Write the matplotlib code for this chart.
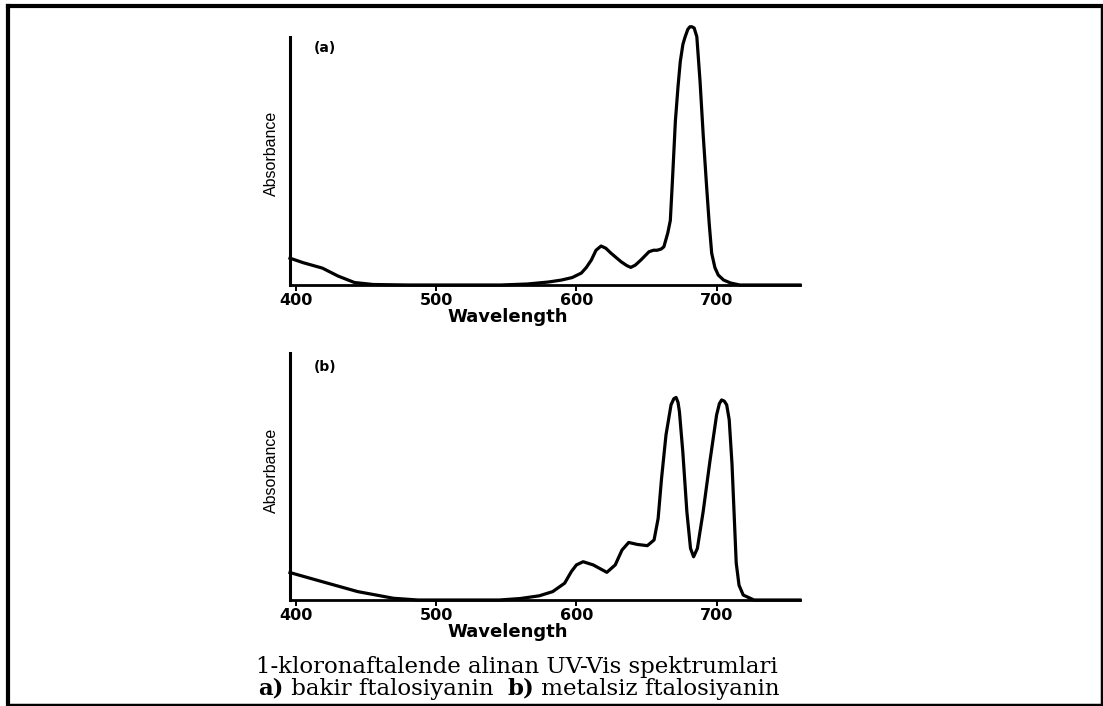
import matplotlib
matplotlib.use('Agg')
import matplotlib.pyplot as plt
from matplotlib.lines import Line2D
from matplotlib.transforms import blended_transform_factory

# spectrum (a) copper phthalocyanine
wl_a = [395.7, 405, 418.8, 430, 441.7, 455, 480, 520, 546, 565, 580, 589.4, 597,
        603.5, 607, 610.6, 614, 617.6, 621, 624.7, 631.8, 636, 638.8, 642, 645.9,
        651.8, 655, 657.6, 660.5, 662.4, 665.2, 667, 668.5, 670.6, 672.5, 674.1,
        676, 677.6, 679.5, 681, 682.4, 684, 685.9, 688.2, 690.5, 692.9, 694.7,
        696.5, 698.8, 701.2, 705, 710, 716.6, 730, 759.5]
abs_a = [0.108, 0.09, 0.068, 0.036, 0.01, 0.002, 0.0, 0.0, 0.0, 0.004, 0.012, 0.02,
         0.03, 0.048, 0.07, 0.10, 0.14, 0.157, 0.148, 0.128, 0.094, 0.078, 0.071,
         0.08, 0.10, 0.134, 0.14, 0.14, 0.145, 0.154, 0.21, 0.26, 0.42, 0.66, 0.80,
         0.90, 0.97, 1.0, 1.03, 1.04, 1.04, 1.035, 1.0, 0.82, 0.6, 0.395, 0.25,
         0.128, 0.07, 0.04, 0.02, 0.008, 0.0, 0.0, 0.0]

# spectrum (b) metal-free phthalocyanine
wl_b = [395.7, 418.8, 444, 469.5, 487, 520, 545, 560, 573.5, 583.1, 591.6, 596.4,
        600, 604.8, 612, 621.7, 627.7, 632.5, 637.3, 643.4, 650.6, 655.4, 658.3,
        660.7, 663.9, 667.5, 669.5, 671.1, 672.5, 673.5, 675.9, 678.8, 681.4,
        683.6, 686.3, 690.4, 695.2, 700, 702, 703.6, 705.5, 707.2, 709, 711, 712.5,
        714, 716, 719, 726.7, 759.5]
abs_b = [0.111, 0.074, 0.034, 0.007, 0.0, 0.0, 0.0, 0.006, 0.017, 0.034, 0.068,
         0.115, 0.142, 0.155, 0.142, 0.112, 0.142, 0.202, 0.233, 0.225, 0.22, 0.243,
         0.33, 0.49, 0.668, 0.79, 0.815, 0.82, 0.80, 0.762, 0.60, 0.357, 0.209,
         0.175, 0.209, 0.357, 0.56, 0.749, 0.795, 0.81, 0.805, 0.79, 0.73, 0.55,
         0.35, 0.15, 0.06, 0.02, 0.0, 0.0]

xticks = [400, 500, 600, 700]
panel_tags = ['(a)', '(b)']
caption1 = '1-kloronaftalende alinan UV-Vis spektrumlari'
caption2 = [('a)', 'bold'), (' bakir ftalosiyanin  ', 'normal'),
            ('b)', 'bold'), (' metalsiz ftalosiyanin', 'normal')]

W, H = 1103.0, 706.0
fig = plt.figure(figsize=(W / 100, H / 100), dpi=100)

ax_a = fig.add_axes([290 / W, 1 - 285 / H, 510 / W, 248.3 / H])
ax_b = fig.add_axes([290 / W, 1 - 600 / H, 510 / W, 247 / H])

serif = ['DejaVu Serif']
cap_size = 16.5
for ax, wl, ab, tag, tag_y, ylab_y in [(ax_a, wl_a, abs_a, panel_tags[0], 48, 153),
                                       (ax_b, wl_b, abs_b, panel_tags[1], 367, 470)]:
    ax.plot(wl, ab, color='black', lw=2.3, clip_on=False, solid_joinstyle='round')
    ax.set_xlim(395.7, 759.5)
    ax.set_ylim(0, 1)
    ax.spines['top'].set_visible(False)
    ax.spines['right'].set_visible(False)
    ax.spines['left'].set_linewidth(2.2)
    ax.spines['bottom'].set_linewidth(2.0)
    ax.set_yticks([])
    ax.set_xticks(xticks)
    ax.tick_params(axis='x', direction='out', length=4, width=1.4, pad=2)
    for lab in ax.get_xticklabels():
        lab.set_fontweight('bold')
        lab.set_fontsize(11.5)
    # axis title sits under the 500-600 gap in the scan
    tr = blended_transform_factory(ax.transData, ax.transAxes)
    ax.text(551, -0.128, 'Wavelength', transform=tr, ha='center', va='center',
            fontsize=13, fontweight='bold')
    fig.text(271 / W, 1 - ylab_y / H, 'Absorbance', rotation=90, ha='center',
             va='center', fontsize=11.5, family=['Liberation Sans', 'DejaVu Sans'])
    fig.text(325 / W, 1 - tag_y / H, tag, ha='center', va='center', fontsize=10,
             fontweight='bold')

fig.text(517 / W, 1 - 667 / H, caption1, ha='center', va='center',
         fontsize=cap_size, family=serif)

# second caption line, mixed bold / regular, centred as one piece
fig.canvas.draw()
renderer = fig.canvas.get_renderer()
pieces = []
for s, w in caption2:
    t = fig.text(0, 1 - 689 / H, s, ha='left', va='center', fontsize=cap_size,
                 fontweight=w, family=serif)
    pieces.append(t)
widths = [t.get_window_extent(renderer).width for t in pieces]
x0 = 519 - sum(widths) / 2
for t, w in zip(pieces, widths):
    t.set_x(x0 / W)
    x0 += w

# black page frame
fx = [8 / W, 1101.5 / W]
fy = [1 - 704.5 / H, 1 - 6 / H]
fig.add_artist(Line2D([fx[0], fx[1]], [fy[1], fy[1]], color='black', lw=3.0))
fig.add_artist(Line2D([fx[0], fx[0]], [fy[0], fy[1]], color='black', lw=3.0))
fig.add_artist(Line2D([fx[1], fx[1]], [fy[0], fy[1]], color='black', lw=2.5))
fig.add_artist(Line2D([fx[0], fx[1]], [fy[0], fy[0]], color='black', lw=2.5))

fig.savefig('out.png', dpi=100)
